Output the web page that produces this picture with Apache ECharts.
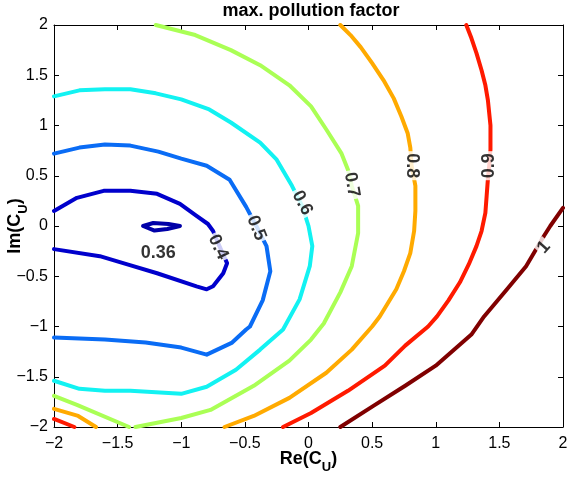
<!DOCTYPE html>
<html><head><meta charset="utf-8">
<script src="https://cdn.jsdelivr.net/npm/echarts@6/dist/echarts.min.js"></script>
<style>html,body{margin:0;padding:0;background:#fff}#c{width:567px;height:479px}</style>
</head><body><div id="c"></div>
<script>
// ---- data (Re(C_U), Im(C_U)) ----
const xTicks = [-2, -1.5, -1, -0.5, 0, 0.5, 1, 1.5, 2];
const yTicks = [-2, -1.5, -1, -0.5, 0, 0.5, 1, 1.5, 2];
const levels = [0.36, 0.4, 0.5, 0.6, 0.7, 0.8, 0.9, 1];

const c036 = [[-1.30,0],[-1.22,0.03],[-1.10,0.02],[-1.01,0],[-1.11,-0.03],[-1.21,-0.045],[-1.30,0]];
const c040 = [[-2,0.15],[-1.82,0.28],[-1.61,0.35],[-1.40,0.35],[-1.19,0.32],[-1.01,0.22],[-0.88,0.10],[-0.79,0.02],[-0.75,-0.05],[-0.70,-0.20],[-0.64,-0.37],[-0.67,-0.47],[-0.75,-0.60],[-0.80,-0.63],[-0.88,-0.60],[-1.19,-0.47],[-1.43,-0.38],[-1.64,-0.30],[-2,-0.23]];
const c050 = [[-2,0.72],[-1.80,0.78],[-1.60,0.81],[-1.40,0.80],[-1.18,0.74],[-1.0,0.67],[-0.80,0.60],[-0.62,0.46],[-0.49,0.19],[-0.41,0.0],[-0.33,-0.20],[-0.30,-0.45],[-0.36,-0.74],[-0.46,-1.0],[-0.49,-1.03],[-0.60,-1.16],[-0.80,-1.28],[-1.0,-1.21],[-1.28,-1.16],[-1.6,-1.13],[-2,-1.11]];
const c060 = [[-2,1.29],[-1.80,1.35],[-1.60,1.36],[-1.40,1.36],[-1.20,1.32],[-1.0,1.26],[-0.78,1.16],[-0.61,1.03],[-0.38,0.83],[-0.25,0.66],[-0.13,0.40],[-0.05,0.2],[0,0],[0.03,-0.20],[0.01,-0.40],[-0.07,-0.73],[-0.20,-1.03],[-0.38,-1.23],[-0.57,-1.43],[-0.80,-1.60],[-1.0,-1.67],[-1.40,-1.64],[-1.6,-1.64],[-1.80,-1.62],[-2,-1.54]];
const c070a = [[-1.20,2.0],[-0.89,1.90],[-0.61,1.75],[-0.38,1.60],[-0.15,1.40],[0.02,1.19],[0.14,0.96],[0.26,0.72],[0.31,0.56],[0.34,0.40],[0.39,0.2],[0.39,-0.07],[0.34,-0.40],[0.25,-0.66],[0.12,-0.97],[0.02,-1.13],[-0.15,-1.34],[-0.43,-1.59],[-0.77,-1.83],[-1.0,-1.91],[-1.36,-2.0]];
const c070b = [[-2,-1.69],[-1.82,-1.78],[-1.41,-2.0]];
const c080a = [[0.25,2.0],[0.33,1.90],[0.41,1.78],[0.50,1.62],[0.59,1.45],[0.67,1.27],[0.73,1.09],[0.78,0.92],[0.80,0.78],[0.81,0.60],[0.84,0.40],[0.84,0.15],[0.83,-0.05],[0.80,-0.27],[0.75,-0.45],[0.69,-0.63],[0.56,-0.90],[0.50,-1.0],[0.34,-1.23],[0.14,-1.46],[-0.15,-1.71],[-0.43,-1.89],[-0.66,-2.0]];
const c080b = [[-2,-1.82],[-1.81,-1.89],[-1.67,-2.0]];
const c090a = [[1.24,2],[1.28,1.87],[1.32,1.72],[1.36,1.55],[1.39,1.40],[1.41,1.25],[1.43,1.0],[1.43,0.76],[1.42,0.6],[1.41,0.47],[1.40,0.30],[1.39,0.13],[1.36,-0.05],[1.32,-0.2],[1.26,-0.38],[1.19,-0.56],[1.10,-0.74],[1.01,-0.90],[0.94,-1.0],[0.76,-1.19],[0.60,-1.39],[0.31,-1.64],[0.02,-1.86],[-0.20,-2]];
const c090b = [[-2,-1.92],[-1.84,-2]];
const c100 = [[2.0,0.18],[1.90,0.0],[1.85,-0.1],[1.71,-0.40],[1.56,-0.63],[1.38,-0.90],[1.28,-1.08],[1.0,-1.39],[0.76,-1.59],[0.51,-1.79],[0.25,-2]];

const labelText = ['0.36','0.4','0.5','0.6','0.7','0.8','0.9','1'];
const labelX = [-1.18, -0.71, -0.41, -0.05, 0.34, 0.81, 1.42, 1.85];
const labelY = [-0.27, -0.21, -0.02, 0.23, 0.41, 0.60, 0.60, -0.21];

// ---- styling ----
const FONT = 'Liberation Sans, Arial, sans-serif';
const segs = [
  [c036, '#0000a8'], [c040, '#0000cc'], [c050, '#0a6cf5'], [c060, '#12f2f2'],
  [c070a, '#aaff55'], [c070b, '#aaff55'], [c080a, '#ffaa00'], [c080b, '#ffaa00'],
  [c090a, '#ff1a00'], [c090b, '#ff1a00'], [c100, '#800000']
];
const labelRot = [0, -65, -68, -62, -80, -90, 90, 48];

const series = segs.map(([d, col]) => ({
  type: 'line', data: d, showSymbol: false, smooth: false, clip: true, z: 2,
  lineStyle: { color: col, width: 4, join: 'round', cap: 'round' },
  emphasis: { disabled: true }, silent: true
}));
series.push({
  type: 'scatter', z: 10, symbolSize: 0, silent: true,
  data: labelText.map((t, i) => ({
    value: [labelX[i], labelY[i]], name: t,
    label: { rotate: labelRot[i] }
  })),
  label: {
    show: true, position: 'inside', formatter: p => p.name,
    fontFamily: FONT, fontWeight: 'bold', fontSize: 18, color: '#000',
    backgroundColor: '#fff', padding: [0, 2]
  }
});

const minus = v => String(v).replace('-', '\u2212');
const rich = {
  n: { fontFamily: FONT, fontWeight: 'bold', fontSize: 18, color: '#000', lineHeight: 30, verticalAlign: 'middle' },
  s: { fontFamily: FONT, fontWeight: 'bold', fontSize: 13, color: '#000', lineHeight: 12, verticalAlign: 'bottom' }
};
const axisCommon = {
  type: 'value', min: -2, max: 2, interval: 0.5,
  splitLine: { show: false },
  axisLine: { show: true, onZero: false, lineStyle: { color: '#000', width: 1 } },
  axisTick: { show: true, inside: true, length: 5, lineStyle: { color: '#000' } }
};

const chart = echarts.init(document.getElementById('c'), null, { renderer: 'canvas' });
chart.setOption({
  animation: false,
  backgroundColor: '#fff',
  title: {
    text: 'max. pollution factor', left: 306, top: -3, textAlign: 'center',
    textStyle: { fontFamily: FONT, fontWeight: 'bold', fontSize: 18, color: '#000' }
  },
  grid: { left: 54, right: 4, top: 25, bottom: 52, containLabel: false, outerBoundsMode: 'none' },
  xAxis: [
    Object.assign({}, axisCommon, {
      position: 'bottom',
      axisLabel: { fontFamily: FONT, fontSize: 16, color: '#000', margin: 9, formatter: v => minus(xTicks.find(t => Math.abs(t - v) < 1e-9) ?? v) },
      name: '{n|Re(C}{s|U}{n|)}', nameLocation: 'middle', nameGap: 17, nameMoveOverlap: false,
      nameTextStyle: { rich }
    }),
    Object.assign({}, axisCommon, { position: 'top', axisLabel: { show: false } })
  ],
  yAxis: [
    Object.assign({}, axisCommon, {
      position: 'left',
      axisLabel: { fontFamily: FONT, fontSize: 16, color: '#000', margin: 6, formatter: v => minus(yTicks.find(t => Math.abs(t - v) < 1e-9) ?? v) },
      name: '{n|Im(C}{s|U}{n|)}', nameLocation: 'middle', nameGap: 24, nameMoveOverlap: false,
      nameTextStyle: { rich }
    }),
    Object.assign({}, axisCommon, { position: 'right', axisLabel: { show: false } })
  ],
  series: series
});
</script></body></html>
